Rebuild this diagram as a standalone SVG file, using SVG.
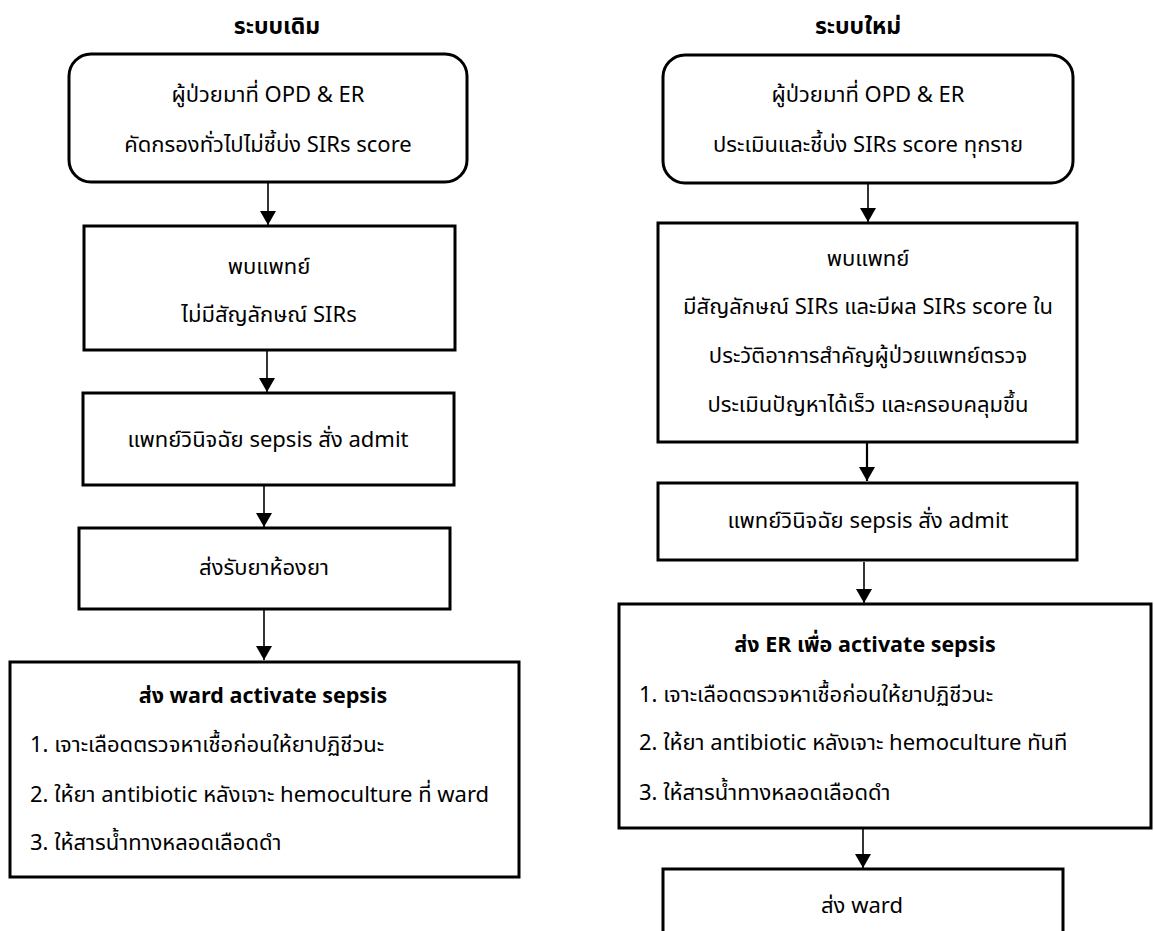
<svg xmlns="http://www.w3.org/2000/svg" width="1154" height="931" viewBox="0 0 1154 931">
<defs>
<marker id="ah" viewBox="0 0 14 16" refX="14" refY="8" markerWidth="14" markerHeight="16" markerUnits="userSpaceOnUse" orient="auto">
<path d="M0,0 L14,8 L0,16 Z" fill="#000"/>
</marker>
<style>
.box{fill:#fff;stroke:#000;stroke-width:3}
.t{font-family:"Noto Sans Thai","Noto Sans","DejaVu Sans",sans-serif;font-size:22px;fill:#000}
.c{text-anchor:middle}
.b{font-weight:bold;font-size:21.5px}
.h{font-weight:bold;font-size:23px}
.ln{stroke:#000;stroke-width:1.6;fill:none}
</style>
</defs>
<rect width="1154" height="931" fill="#fff"/>
<text class="t c h" x="277" y="34">ระบบเดิม</text>
<text class="t c h" x="858" y="34">ระบบใหม่</text>

<g id="connectors">
<line class="ln" x1="268" y1="183" x2="268" y2="225" marker-end="url(#ah)"/>
<line class="ln" x1="267" y1="351" x2="267" y2="392" marker-end="url(#ah)"/>
<line class="ln" x1="264" y1="486" x2="264" y2="527" marker-end="url(#ah)"/>
<line class="ln" x1="264" y1="610" x2="264" y2="660" marker-end="url(#ah)"/>
<line class="ln" x1="868" y1="184" x2="868" y2="222" marker-end="url(#ah)"/>
<line class="ln" x1="867" y1="443" x2="867" y2="481" marker-end="url(#ah)" style="stroke-width:2.2"/>
<line class="ln" x1="864" y1="562" x2="864" y2="603" marker-end="url(#ah)"/>
<line class="ln" x1="863" y1="829" x2="863" y2="868" marker-end="url(#ah)"/>
</g>

<g id="old1">
<rect class="box" x="69" y="54" width="398" height="128" rx="22"/>
<text class="t c" x="268" y="102">ผู้ป่วยมาที่ OPD &amp; ER</text>
<text class="t c" x="268" y="152">คัดกรองทั่วไปไม่ชี้บ่ง SIRs score</text>
</g>
<g id="old2">
<rect class="box" x="84" y="226" width="371" height="124"/>
<text class="t c" x="269" y="274">พบแพทย์</text>
<text class="t c" x="269" y="322">ไม่มีสัญลักษณ์ SIRs</text>
</g>
<g id="old3">
<rect class="box" x="83" y="393" width="371" height="92"/>
<text class="t c" x="268" y="447">แพทย์วินิจฉัย sepsis สั่ง admit</text>
</g>
<g id="old4">
<rect class="box" x="79" y="528" width="371" height="81"/>
<text class="t c" x="264" y="575">ส่งรับยาห้องยา</text>
</g>
<g id="old5">
<rect class="box" x="10" y="662" width="509" height="215"/>
<text class="t c b" x="263" y="703">ส่ง ward activate sepsis</text>
<text class="t" x="30" y="752">1. เจาะเลือดตรวจหาเชื้อก่อนให้ยาปฏิชีวนะ</text>
<text class="t" x="30" y="802">2. ให้ยา antibiotic หลังเจาะ hemoculture ที่ ward</text>
<text class="t" x="30" y="850">3. ให้สารน้ำทางหลอดเลือดดำ</text>
</g>

<g id="new1">
<rect class="box" x="663" y="55" width="410" height="128" rx="22"/>
<text class="t c" x="868" y="102">ผู้ป่วยมาที่ OPD &amp; ER</text>
<text class="t c" x="868" y="152">ประเมินและชี้บ่ง SIRs score ทุกราย</text>
</g>
<g id="new2">
<rect class="box" x="658" y="223" width="419" height="219"/>
<text class="t c" x="868" y="266">พบแพทย์</text>
<text class="t c" x="868" y="314">มีสัญลักษณ์ SIRs และมีผล SIRs score ใน</text>
<text class="t c" x="868" y="363">ประวัติอาการสำคัญผู้ป่วยแพทย์ตรวจ</text>
<text class="t c" x="868" y="412">ประเมินปัญหาได้เร็ว และครอบคลุมขึ้น</text>
</g>
<g id="new3">
<rect class="box" x="658" y="483" width="419" height="77"/>
<text class="t c" x="868" y="528">แพทย์วินิจฉัย sepsis สั่ง admit</text>
</g>
<g id="new4">
<rect class="box" x="619" y="604" width="532" height="224"/>
<text class="t c b" x="865" y="652">ส่ง ER เพื่อ activate sepsis</text>
<text class="t" x="639" y="702">1. เจาะเลือดตรวจหาเชื้อก่อนให้ยาปฏิชีวนะ</text>
<text class="t" x="639" y="750">2. ให้ยา antibiotic หลังเจาะ hemoculture ทันที</text>
<text class="t" x="639" y="800">3. ให้สารน้ำทางหลอดเลือดดำ</text>
</g>
<g id="new5">
<rect class="box" x="663" y="869" width="400" height="80"/>
<text class="t c" x="862" y="913">ส่ง ward</text>
</g>
</svg>
